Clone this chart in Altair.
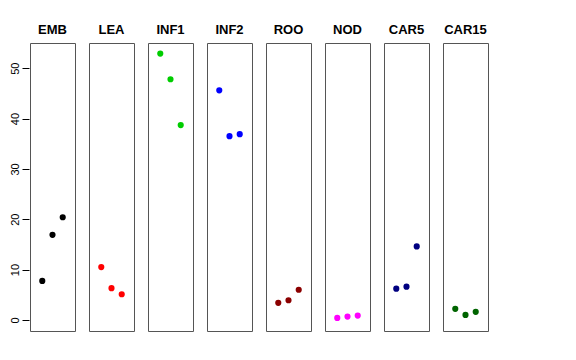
import altair as alt
import pandas as pd

panels = ["EMB", "LEA", "INF1", "INF2", "ROO", "NOD", "CAR5", "CAR15"]
colors = ["#000000", "#FF0000", "#00CD00", "#0000FF", "#8B0000", "#FF00FF", "#000080", "#006400"]
values = {
    "EMB": [7.75, 16.9, 20.4],
    "LEA": [10.5, 6.3, 5.1],
    "INF1": [52.9, 47.8, 38.7],
    "INF2": [45.6, 36.5, 36.9],
    "ROO": [3.4, 3.9, 6.0],
    "NOD": [0.4, 0.66, 0.86],
    "CAR5": [6.2, 6.6, 14.6],
    "CAR15": [2.2, 1.0, 1.6],
}
positions = [1, 2, 3]

rows = []
for p in panels:
    for i, v in zip(positions, values[p]):
        rows.append({"panel": p, "idx": i, "value": v})
df = pd.DataFrame(rows)

base = alt.Chart(df).mark_point(filled=True, opacity=1, size=38).encode(
    x=alt.X("idx:Q", scale=alt.Scale(domain=[-0.2, 4.2], nice=False, zero=False), axis=None),
    y=alt.Y("value:Q", title=None,
            scale=alt.Scale(domain=[-2.2, 55], nice=False, zero=False),
            axis=alt.Axis(values=[0, 10, 20, 30, 40, 50], grid=False, domain=False,
                          tickSize=7, tickColor="#000000", labelAngle=270,
                          labelAlign="center", labelBaseline="bottom",
                          labelPadding=2, labelFontSize=11, labelColor="#000000",
                          labelFont="Liberation Sans")),
    color=alt.Color("panel:N", scale=alt.Scale(domain=panels, range=colors), legend=None),
).properties(width=45, height=288)

chart = base.facet(
    column=alt.Column("panel:N", sort=panels,
                      header=alt.Header(title=None, labelFontWeight="bold", labelFontSize=13,
                                        labelFont="Liberation Sans", labelColor="#000000",
                                        labelOrient="top", labelPadding=5))
).configure_facet(spacing=12).configure_view(stroke="#555555", strokeWidth=1).properties(
    padding={"left": 0, "top": 16, "right": 5, "bottom": 5}
)

chart.save("out.html", embed_options={"renderer": "svg", "actions": False})
